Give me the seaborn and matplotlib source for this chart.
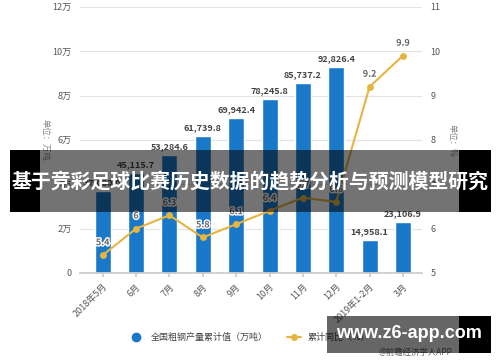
import matplotlib
matplotlib.use("Agg")
import matplotlib.pyplot as plt
import matplotlib.patheffects as pe
from matplotlib.patches import Rectangle
from matplotlib.lines import Line2D
import seaborn as sns
import pandas as pd

# データ
months = ["2018年5月", "6月", "7月", "8月", "9月", "10月", "11月", "12月", "2019年1-2月", "3月"]
output = [37000.0, 45115.7, 53284.6, 61739.8, 69942.4, 78245.8, 85737.2, 92826.4, 14958.1, 23106.9]
growth = [5.4, 6.0, 6.3, 5.8, 6.1, 6.4, 6.7, 6.6, 9.2, 9.9]
left_ticks = [0, 20000, 40000, 60000, 80000, 100000, 120000]
left_labels = ["0", "2万", "4万", "6万", "8万", "10万", "12万"]
right_ticks = [5, 6, 7, 8, 9, 10, 11]

bar_color = "#1a78c8"
line_color = "#e6b440"
text_color = "#555555"

df = pd.DataFrame({"month": months, "output": output, "growth": growth})

sns.set_theme(style="white")
plt.rcParams["font.family"] = ["Noto Sans CJK SC", "DejaVu Sans"]

fig = plt.figure(figsize=(5, 3.62), dpi=100)
ax = fig.add_axes([0.16, 0.246, 0.684, 0.735])

# 棒グラフ
sns.barplot(data=df, x="month", y="output", color=bar_color, width=0.48,
            saturation=1, ax=ax)
ax.set_ylim(0, 120000)
ax.set_xlim(-0.68, 9.57)
ax.set_yticks(left_ticks)
ax.set_yticklabels(left_labels)
ax.yaxis.grid(True, color="#e3e3e3", linewidth=0.8)
ax.set_axisbelow(True)
for s in ["top", "left", "right"]:
    ax.spines[s].set_visible(False)
ax.spines["bottom"].set_color("#cccccc")
ax.set_xlabel("")
ax.set_ylabel("")
ax.tick_params(axis="y", length=0, labelsize=6.5, labelcolor=text_color, pad=6)
ax.tick_params(axis="x", length=3, color="#cccccc", labelsize=6.5, labelcolor=text_color, bottom=True)
plt.setp(ax.get_xticklabels(), rotation=45, ha="right", rotation_mode="anchor")

for i, v in enumerate(output):
    ax.text(i, v + 1800, f"{v:,.1f}", ha="center", va="bottom", fontsize=6.5,
            color="#444444", fontweight="bold")

# 折れ線グラフ
ax2 = ax.twinx()
sns.lineplot(data=df, x="month", y="growth", color=line_color, linewidth=1.5,
             marker="o", markersize=5, markeredgewidth=0, sort=False, ax=ax2)
ax2.set_ylim(5, 11)
ax2.set_yticks(right_ticks)
ax2.set_ylabel("")
for s in ["top", "left", "right", "bottom"]:
    ax2.spines[s].set_visible(False)
ax2.tick_params(axis="y", length=0, labelsize=6.5, labelcolor=text_color, pad=6)
ax2.grid(False)

for i, v in enumerate(growth):
    ax2.text(i, v + 0.18, f"{v:g}", ha="center", va="bottom", fontsize=6.5,
             color="#666666", fontweight="bold",
             path_effects=[pe.withStroke(linewidth=2, foreground="white")])

# 軸ラベル
fig.text(0.09, 0.613, "单位：万吨", rotation=-90, ha="center", va="center",
         fontsize=6, color="#888888")
fig.text(0.904, 0.613, "单位：%", rotation=-90, ha="center", va="center",
         fontsize=6, color="#888888")

# 凡例
handles = [Line2D([], [], marker="o", linestyle="none", color=bar_color, markersize=6),
           Line2D([], [], marker="o", color=line_color, markersize=4, linewidth=1.5)]
fig.legend(handles, ["全国粗钢产量累计值（万吨）", "累计同比（%）"], loc="center",
           bbox_to_anchor=(0.5, 0.068), ncol=2, frameon=False, fontsize=6.5,
           labelcolor="#444444", handlelength=1.5, columnspacing=2.2)

fig.text(0.83, 0.025, "@前瞻经济学人APP", ha="center", va="center", fontsize=6,
         color="#666666")

# タイトルの帯
def px_rect(x0, x1, y0, y1, alpha):
    fig.patches.append(Rectangle((x0 / 500, 1 - y1 / 362), (x1 - x0) / 500, (y1 - y0) / 362,
                                 transform=fig.transFigure, facecolor="black",
                                 alpha=alpha, edgecolor="none", zorder=10))

px_rect(10, 40, 150, 212, 1.0)
px_rect(40, 459, 150, 212, 0.55)
px_rect(459, 491, 150, 212, 1.0)
fig.text(0.5, 1 - 182 / 362, "基于竞彩足球比赛历史数据的趋势分析与预测模型研究",
         ha="center", va="center", fontsize=14.3, fontweight="bold", color="white",
         zorder=11)

# ウォーターマーク
px_rect(327, 459, 316, 353, 0.6)
px_rect(459, 491, 316, 353, 1.0)
fig.text(409 / 500, 1 - 334 / 362, "www.z6-app.com", ha="center", va="center",
         fontsize=13, fontweight="bold", color="white",
         family=["Liberation Sans", "DejaVu Sans"], zorder=11)

fig.savefig("out.png", dpi=100)
